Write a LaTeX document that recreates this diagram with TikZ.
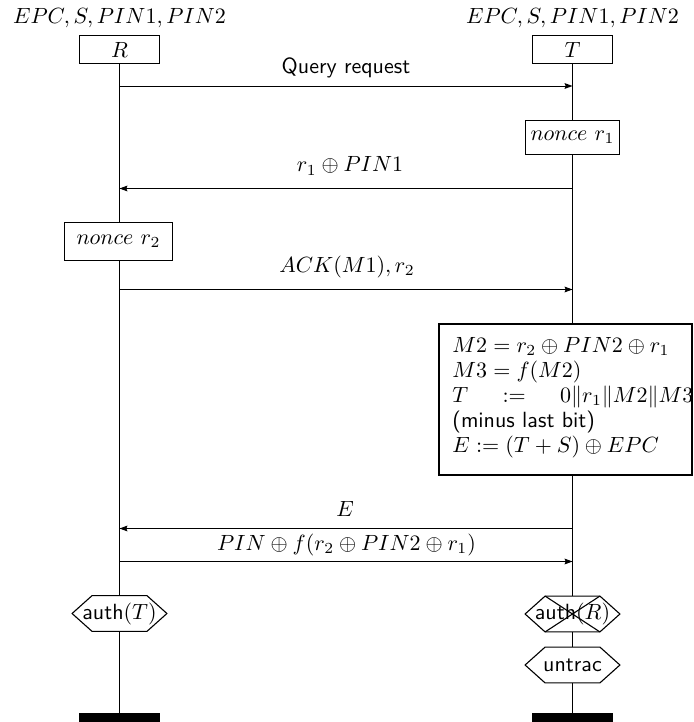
\documentclass[tikz,border=0pt]{standalone}
\usetikzlibrary{arrows.meta}
\begin{document}
\begin{tikzpicture}[x=0.4545pt,y=-0.4545pt,
  lab/.style={anchor=base,inner sep=0pt},
  inst/.style={draw,line width=0.55pt,inner sep=0pt,minimum width=36.6pt,minimum height=12.5pt},
  actbox/.style={draw,line width=0.55pt,inner sep=0pt},
  hexa/.style={inner sep=0pt,minimum width=42.7pt,minimum height=15.9pt},
  hexline/.style={line width=0.5pt},
  endbar/.style={fill=black,inner sep=0pt,minimum width=36.4pt,minimum height=4.1pt},
  life/.style={line width=0.45pt},
  msg/.style={line width=0.45pt,-{Stealth[length=3.6pt,width=2.6pt,inset=0.5pt]}}]
\useasboundingbox (0,0) rectangle (694,722);
% instance headers
\node[lab] (lR) at (119.5,24) {$EPC, S, PIN1, PIN2$};
\node[lab] (lT) at (572.5,24) {$EPC, S, PIN1, PIN2$};
\node[inst] (R) at (119.5,49.5) {$R$};
\node[inst] (T) at (572.5,49.5) {$T$};
% actions
\node[actbox,minimum width=42.7pt,minimum height=15.3pt] (n1) at (572.5,137.5) {$nonce~r_1$};
\node[actbox,minimum width=49.3pt,minimum height=17pt] (n2) at (118.5,241.5) {$nonce~r_2$};
\node[actbox,minimum width=115pt,minimum height=68.6pt] (big) at (565.5,399.5) {};
\node[anchor=north west,inner sep=0pt,text width=109.5pt,align=left,font=\fontsize{10}{11.4}\selectfont] (bigtext) at (452,337)
  {$M2 = r_2 \oplus PIN2 \oplus r_1$\\
   $M3 = f(M2)$\\
   \makebox[109.5pt][s]{$T$\hfill$:=$\hfill$0\|r_1\|M2\|M3$}\\
   \textsf{(minus last bit)}\\
   $E := (T + S) \oplus EPC$};
% conditions
\node[hexa] (aT) at (119.5,613.5) {\textsf{auth}$(T)$};
\node[hexa] (aR) at (572.5,614) {\textsf{auth}$(R)$};
\node[hexa] (un) at (572.5,665) {\textsf{untrac}};
\foreach \n in {aT,aR,un}
  \draw[hexline] (\n.west) -- ([xshift=9.1pt]\n.north west) -- ([xshift=-9.1pt]\n.north east) -- (\n.east)
     -- ([xshift=-9.1pt]\n.south east) -- ([xshift=9.1pt]\n.south west) -- cycle;
\draw[hexline] ([xshift=9.1pt]aR.north west) -- ([xshift=-9.1pt]aR.south east);
\draw[hexline] ([xshift=-9.1pt]aR.north east) -- ([xshift=9.1pt]aR.south west);
% end bars
\node[endbar] (eR) at (119.5,717.5) {};
\node[endbar] (eT) at (572.5,717.5) {};
% lifelines
\draw[life] (R.south) -- (R.south |- n2.north);
\draw[life] (R.south |- n2.south) -- (aT.north);
\draw[life] (aT.south) -- (eR.north);
\draw[life] (T.south) -- (n1.north);
\draw[life] (n1.south) -- (T.south |- big.north);
\draw[life] (T.south |- big.south) -- (aR.north);
\draw[life] (aR.south) -- (un.north);
\draw[life] (un.south) -- (eT.north);
% messages
\coordinate (m1R) at (119.5,86);  \coordinate (m1T) at (572.5,86);
\coordinate (m2R) at (119.5,188.5); \coordinate (m2T) at (572.5,188.5);
\coordinate (m3R) at (119.5,289.5); \coordinate (m3T) at (572.5,289.5);
\coordinate (m4R) at (119.5,528.5); \coordinate (m4T) at (572.5,528.5);
\coordinate (m5R) at (119.5,561.5); \coordinate (m5T) at (572.5,561.5);
\draw[msg] (m1R) -- (m1T);
\draw[msg] (m2T) -- (m2R);
\draw[msg] (m3R) -- (m3T);
\draw[msg] (m4T) -- (m4R);
\draw[msg] (m5R) -- (m5T);
\node[lab] (t1) at (346,73.5) {\textsf{Query request}};
\node[lab] (t2) at (350,172) {$r_1 \oplus PIN1$};
\node[lab] (t3) at (347,272.5) {$ACK(M1), r_2$};
\node[lab] (t4) at (345,516.5) {$E$};
\node[lab] (t5) at (346.5,550) {$PIN \oplus f(r_2 \oplus PIN2 \oplus r_1)$};
\end{tikzpicture}
\end{document}
